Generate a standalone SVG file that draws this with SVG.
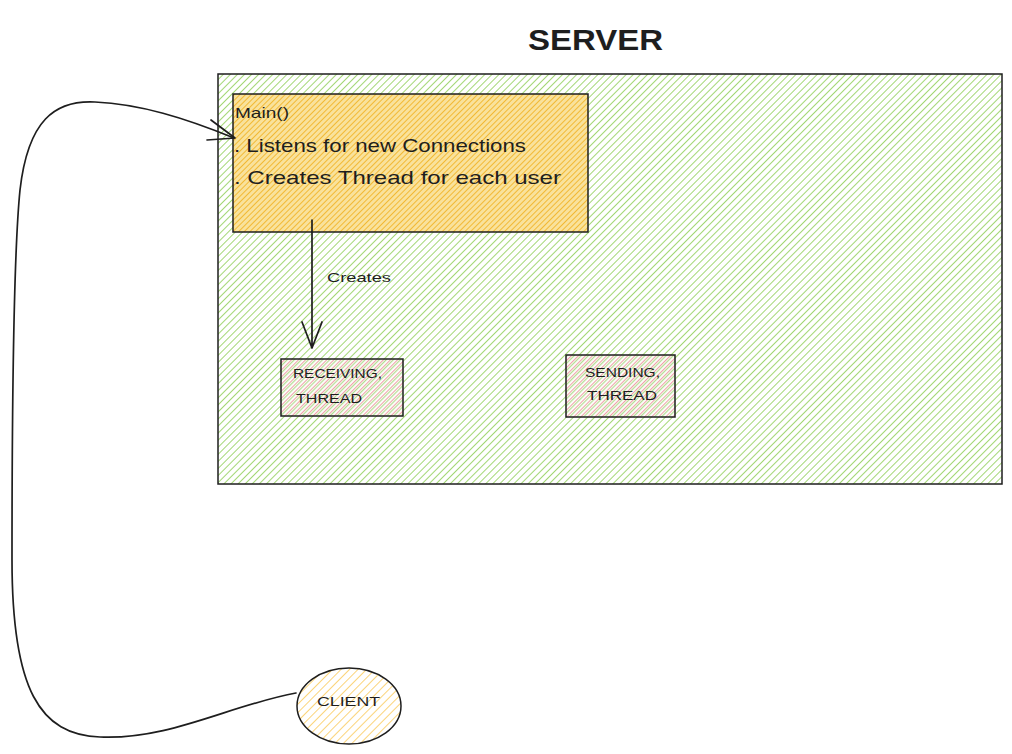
<svg xmlns="http://www.w3.org/2000/svg" width="1012" height="754" viewBox="0 0 1012 754">
<defs>
<pattern id="hGreen" patternUnits="userSpaceOnUse" width="5" height="5" patternTransform="rotate(45)">
<line x1="0" y1="0" x2="0" y2="5" stroke="#a3d775" stroke-width="2"/>
</pattern>
<pattern id="hOrange" patternUnits="userSpaceOnUse" width="4" height="4" patternTransform="rotate(45)">
<rect width="4" height="4" fill="#f9e29c"/>
<line x1="0" y1="0" x2="0" y2="4" stroke="#f2b935" stroke-width="2"/>
</pattern>
<pattern id="hRed" patternUnits="userSpaceOnUse" width="5" height="5" patternTransform="rotate(45)">
<rect width="5" height="5" fill="#ffffff"/>
<line x1="0" y1="0" x2="0" y2="5" stroke="#f0a2aa" stroke-width="2"/>
<line x1="2.5" y1="0" x2="2.5" y2="5" stroke="#b6dc92" stroke-width="1.3"/>
</pattern>
<pattern id="hYellow" patternUnits="userSpaceOnUse" width="6" height="6" patternTransform="rotate(45)">
<line x1="0" y1="0" x2="0" y2="6" stroke="#fbd47a" stroke-width="2"/>
</pattern>
</defs>
<style>
.box{stroke:#1e1e1e;stroke-width:1.5}
.t{font-family:"Liberation Sans",Arial,sans-serif;fill:#1e1e1e}
.conn{fill:none;stroke:#1e1e1e;stroke-width:1.7;stroke-linecap:round;stroke-linejoin:round}
</style>
<rect width="1012" height="754" fill="#ffffff"/>
<text class="t" x="528" y="50" font-size="30" font-weight="bold" textLength="135" lengthAdjust="spacingAndGlyphs">SERVER</text>
<g id="server">
<rect class="box" x="218" y="74" width="784" height="410" fill="url(#hGreen)"/>
</g>
<g id="main">
<rect class="box" x="233" y="94" width="355" height="138" fill="url(#hOrange)"/>
<text class="t" x="235" y="118" font-size="15" textLength="54" lengthAdjust="spacingAndGlyphs">Main()</text>
<text class="t" x="234" y="152" font-size="19" textLength="292" lengthAdjust="spacingAndGlyphs">. Listens for new Connections</text>
<text class="t" x="234" y="184" font-size="19" textLength="327" lengthAdjust="spacingAndGlyphs">. Creates Thread for each user</text>
</g>
<g id="receiving">
<rect class="box" x="281" y="359" width="122" height="57" fill="url(#hRed)"/>
<text class="t" x="293" y="378" font-size="13" textLength="89" lengthAdjust="spacingAndGlyphs">RECEIVING,</text>
<text class="t" x="296" y="403" font-size="13" textLength="66" lengthAdjust="spacingAndGlyphs">THREAD</text>
</g>
<g id="sending">
<rect class="box" x="566" y="355" width="109" height="62" fill="url(#hRed)"/>
<text class="t" x="585" y="377" font-size="13" textLength="75" lengthAdjust="spacingAndGlyphs">SENDING,</text>
<text class="t" x="587" y="400" font-size="13" textLength="70" lengthAdjust="spacingAndGlyphs">THREAD</text>
</g>
<g id="client">
<ellipse class="box" cx="349" cy="706" rx="52" ry="38" fill="url(#hYellow)"/>
<text class="t" x="317" y="706" font-size="13" textLength="63" lengthAdjust="spacingAndGlyphs">CLIENT</text>
</g>
<g id="connectors">
<path class="conn" d="M312,220 L312,348 M302,322 L312,348 L322,322"/>
<text class="t" x="327" y="282" font-size="13" textLength="64" lengthAdjust="spacingAndGlyphs">Creates</text>
<path class="conn" d="M296,693 C230,705 170,740 100,737 C40,735 12,690 12,560 C12,420 14,250 20,190 C28,120 55,100 95,102 C140,104 185,118 234,138"/>
<path class="conn" d="M211,120 L235,138 L207,140"/>
</g>
</svg>
